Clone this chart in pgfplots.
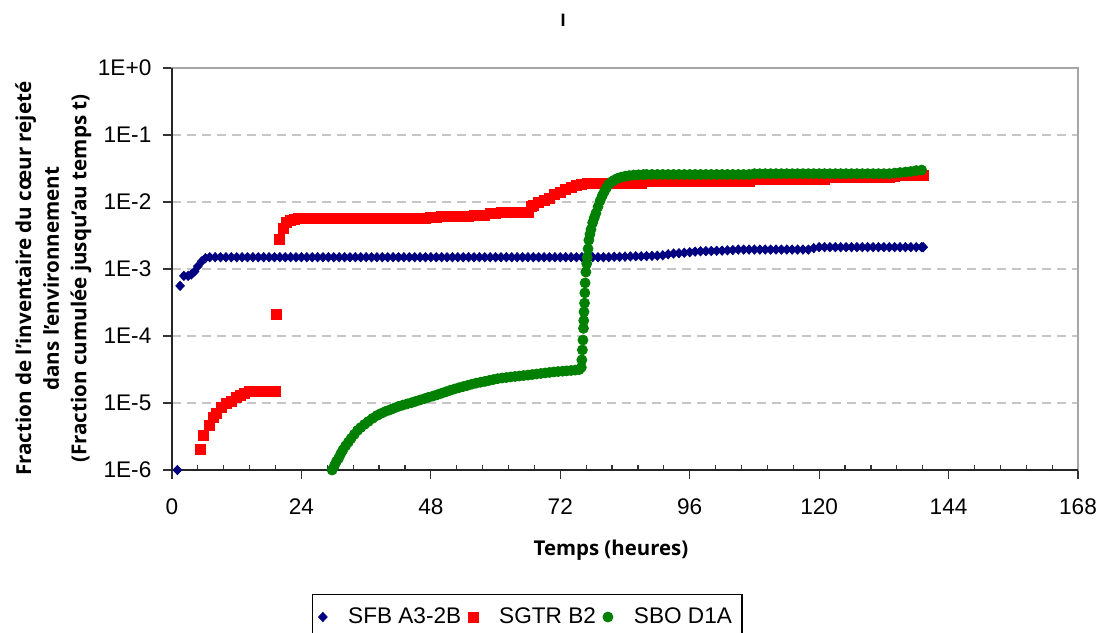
\documentclass[border=0pt]{standalone}
\usepackage{fontspec}
\setmainfont{Liberation Sans}
\newfontfamily\labelfont{Open Sans}
\usepackage{pgfplots}
\pgfplotsset{compat=1.18}
\definecolor{sfb}{HTML}{000080}
\definecolor{sgtr}{HTML}{FF0000}
\definecolor{sbo}{HTML}{008000}
\begin{document}
\begin{tikzpicture}
\path[use as bounding box] (-86pt,-81pt) rectangle (465pt,235pt);
\begin{axis}[
  scale only axis, width=453pt, height=201pt,
  at={(0pt,0pt)}, anchor=south west,
  xmin=0, xmax=168, ymin=1e-6, ymax=1, ymode=log, log basis y=10,
  xtick={0,24,...,168}, minor x tick num=4,
  ytick={1e-6,1e-5,1e-4,1e-3,1e-2,1e-1,1},
  yticklabels={1E-6,1E-5,1E-4,1E-3,1E-2,1E-1,1E+0},
  /pgf/number format/assume math mode=true,
  ticklabel style={font=\fontsize{11.3}{13}\selectfont},
  xticklabel style={yshift=-6.5pt},
  yticklabel style={xshift=-2.3pt},
  xtick pos=bottom, ytick pos=left,
  tick align=outside, major tick length=4.5pt, minor tick length=2.5pt,
  tick style={black!80, line width=0.6pt},
  every minor x tick/.append style={yshift=2.5pt},
  every minor y tick/.append style={xshift=2.5pt},
  ymajorgrids, major grid style={draw=gray!45, dash pattern=on 4.5pt off 3pt, line width=0.6pt},
  axis line style={draw=gray!70, line width=0.6pt},
  clip=false,
  title={I},
  title style={at={(axis description cs:0.4316,1.119)}, anchor=center, yshift=-6pt, font=\bfseries\fontsize{9}{10}\selectfont},
  xlabel={Temps (heures)},
  every axis x label/.style={at={(axis description cs:0.4845,-0.199)}, anchor=center, font=\labelfont\bfseries\fontsize{10.2}{12}\selectfont},
  ylabel={Fraction de l’inventaire du cœur rejeté\\dans l’environnement\\(Fraction cumulée jusqu’au temps t)},
  every axis y label/.style={at={(axis description cs:-0.1309,0.476)}, anchor=center, rotate=90, align=center, font=\labelfont\bfseries\fontsize{10.3}{13.8}\selectfont},
  legend columns=3,
  legend style={at={(axis description cs:0.1545,-0.3085)}, anchor=north west, draw=black, line width=0.6pt, fill=white,
    inner xsep=3pt, inner ysep=4.5pt, font=\fontsize{11.3}{13}\selectfont,
    /tikz/every odd column/.append style={column sep=8.5pt},
    /tikz/every even column/.append style={column sep=1.5pt}},
  legend image code/.code={\draw[#1, line width=0.4pt] plot coordinates {(0pt,0pt)};},
]
\draw[black!85, line width=0.7pt] (rel axis cs:0,1) -- (rel axis cs:0,0) -- (rel axis cs:1,0);

\addplot[only marks, mark=diamond*, mark size=2.3pt, mark options={xscale=1.25}, color=sfb] coordinates {
(1,1e-6) (1.5,5.6e-4) (2.2,7.9e-4) (3.0,7.9e-4) (3.6,8.3e-4) (4.2,9.2e-4) (4.8,1.1e-3) (5.5,1.3e-3) (6.2,1.45e-3)
(7,1.5e-3) (8,1.5e-3) (9,1.5e-3) (10,1.5e-3) (11,1.5e-3) (12,1.5e-3) (13,1.5e-3) (14,1.5e-3) (15,1.5e-3) (16,1.5e-3)
(17,1.5e-3) (18,1.5e-3) (19,1.5e-3) (20,1.5e-3) (21,1.5e-3) (22,1.5e-3) (23,1.5e-3) (24,1.5e-3) (25,1.5e-3) (26,1.5e-3)
(27,1.5e-3) (28,1.5e-3) (29,1.5e-3) (30,1.5e-3) (31,1.5e-3) (32,1.5e-3) (33,1.5e-3) (34,1.5e-3) (35,1.5e-3) (36,1.5e-3)
(37,1.5e-3) (38,1.5e-3) (39,1.5e-3) (40,1.5e-3) (41,1.5e-3) (42,1.5e-3) (43,1.5e-3) (44,1.5e-3) (45,1.5e-3) (46,1.5e-3)
(47,1.5e-3) (48,1.5e-3) (49,1.5e-3) (50,1.5e-3) (51,1.5e-3) (52,1.5e-3) (53,1.5e-3) (54,1.5e-3) (55,1.5e-3) (56,1.5e-3)
(57,1.5e-3) (58,1.5e-3) (59,1.5e-3) (60,1.5e-3) (61,1.5e-3) (62,1.5e-3) (63,1.5e-3) (64,1.5e-3) (65,1.5e-3) (66,1.5e-3)
(67,1.5e-3) (68,1.5e-3) (69,1.5e-3) (70,1.5e-3) (71,1.5e-3) (72,1.5e-3) (73,1.5e-3) (74,1.5e-3) (75,1.5e-3) (76,1.5e-3)
(77,1.5e-3) (78,1.5e-3) (79,1.5e-3) (80,1.5e-3) (81,1.5e-3) (82,1.52e-3) (83,1.52e-3) (84,1.53e-3) (85,1.54e-3) (86,1.55e-3)
(87,1.55e-3) (88,1.56e-3) (89,1.57e-3) (90,1.58e-3) (91,1.6e-3) (92,1.66e-3) (93,1.7e-3) (94,1.72e-3) (95,1.75e-3) (96,1.78e-3)
(97,1.82e-3) (98,1.84e-3) (99,1.85e-3) (100,1.86e-3) (101,1.87e-3) (102,1.88e-3) (103,1.9e-3) (104,1.92e-3) (105,1.95e-3) (106,1.95e-3)
(107,1.95e-3) (108,1.95e-3) (109,1.95e-3) (110,1.95e-3) (111,1.95e-3) (112,1.95e-3) (113,1.95e-3) (114,1.95e-3) (115,1.95e-3) (116,1.95e-3)
(117,1.95e-3) (118,1.95e-3) (119,2.05e-3) (120,2.12e-3) (121,2.12e-3) (122,2.12e-3) (123,2.12e-3) (124,2.12e-3) (125,2.12e-3) (126,2.12e-3)
(127,2.12e-3) (128,2.12e-3) (129,2.12e-3) (130,2.12e-3) (131,2.12e-3) (132,2.12e-3) (133,2.12e-3) (134,2.12e-3) (135,2.12e-3) (136,2.12e-3)
(137,2.12e-3) (138,2.12e-3) (139,2.12e-3) (139.3,2.12e-3)
};
\addlegendentry{SFB A3-2B}

\addplot[only marks, mark=square*, mark size=2.5pt, color=sgtr] coordinates {
(5.2,2.0e-6) (5.9,3.3e-6) (6.9,4.6e-6) (7.6,6.0e-6) (8.3,7.1e-6) (9.2,8.7e-6) (10.1,1.0e-5) (11.1,1.07e-5) (11.9,1.2e-5) (12.6,1.3e-5)
(13.5,1.4e-5) (14.3,1.5e-5) (15.1,1.5e-5) (15.9,1.5e-5) (16.7,1.5e-5) (17.5,1.5e-5) (18.3,1.5e-5) (19.1,1.5e-5) (19.3,2.1e-4)
(20.0,2.8e-3) (20.6,4.1e-3) (21.3,5.0e-3) (22.0,5.3e-3) (22.7,5.5e-3) (23.5,5.6e-3)
(24,5.6e-3) (25,5.6e-3) (26,5.6e-3) (27,5.6e-3) (28,5.6e-3) (29,5.6e-3) (30,5.6e-3) (31,5.6e-3) (32,5.6e-3) (33,5.6e-3)
(34,5.6e-3) (35,5.6e-3) (36,5.6e-3) (37,5.6e-3) (38,5.6e-3) (39,5.6e-3) (40,5.6e-3) (41,5.6e-3) (42,5.6e-3) (43,5.6e-3)
(44,5.6e-3) (45,5.65e-3) (46,5.7e-3) (47,5.7e-3) (48,5.8e-3) (49,5.8e-3) (50,6.0e-3) (51,6.0e-3) (52,6.0e-3) (53,6.2e-3)
(54,6.2e-3) (55,6.2e-3) (56,6.4e-3) (57,6.4e-3) (58,6.4e-3) (59,6.7e-3) (60,6.7e-3) (61,6.9e-3) (62,6.9e-3) (63,6.9e-3)
(64,6.9e-3) (65,6.9e-3) (66,6.9e-3) (66.6,8.5e-3) (67,9.0e-3) (68,1.0e-2) (69,1.07e-2) (70,1.15e-2) (71,1.3e-2) (72,1.4e-2)
(73,1.55e-2) (74,1.67e-2) (75,1.75e-2) (76,1.85e-2) (77,1.92e-2) (78,1.92e-2) (79,1.92e-2) (80,1.92e-2) (81,1.92e-2) (82,1.92e-2)
(83,1.92e-2) (84,1.92e-2) (85,1.92e-2) (86,1.92e-2) (87,1.92e-2) (88,2.0e-2) (89,2.0e-2) (90,2.0e-2) (91,2.0e-2) (92,2.0e-2)
(93,2.0e-2) (94,2.0e-2) (95,2.0e-2) (96,2.0e-2) (97,2.0e-2) (98,2.0e-2) (99,2.0e-2) (100,2.0e-2) (101,2.0e-2) (102,2.0e-2)
(103,2.0e-2) (104,2.0e-2) (105,2.0e-2) (106,2.0e-2) (107,2.0e-2) (108,2.15e-2) (109,2.15e-2) (110,2.15e-2) (111,2.15e-2) (112,2.15e-2)
(113,2.15e-2) (114,2.15e-2) (115,2.15e-2) (116,2.15e-2) (117,2.15e-2) (118,2.15e-2) (119,2.15e-2) (120,2.15e-2) (121,2.15e-2) (122,2.3e-2)
(123,2.3e-2) (124,2.3e-2) (125,2.3e-2) (126,2.3e-2) (127,2.3e-2) (128,2.3e-2) (129,2.3e-2) (130,2.3e-2) (131,2.3e-2) (132,2.3e-2)
(133,2.3e-2) (134,2.4e-2) (135,2.5e-2) (136,2.5e-2) (137,2.5e-2) (138,2.5e-2) (139,2.5e-2) (139.4,2.5e-2)
};
\addlegendentry{SGTR B2}

\addplot[only marks, mark=*, mark size=2.5pt, color=sbo] coordinates {
(29.7,1.0e-6) (30.1,1.15e-6) (30.5,1.35e-6) (30.9,1.5e-6) (31.3,1.75e-6) (31.7,2.0e-6) (32.2,2.3e-6) (32.7,2.6e-6) (33.2,2.95e-6) (33.8,3.4e-6)
(34.4,3.9e-6) (35.0,4.3e-6) (35.7,4.8e-6) (36.4,5.3e-6) (37.2,5.9e-6) (38.0,6.5e-6) (38.8,7.0e-6) (39.6,7.5e-6) (40.4,7.9e-6) (41.2,8.4e-6)
(42.0,8.9e-6) (42.8,9.3e-6) (43.6,9.7e-6) (44.4,1.01e-5) (45.2,1.06e-5) (46.0,1.11e-5) (46.8,1.16e-5) (47.6,1.22e-5) (48.4,1.27e-5) (49.2,1.33e-5)
(50.0,1.40e-5) (50.8,1.47e-5) (51.6,1.55e-5) (52.4,1.62e-5) (53.2,1.69e-5) (54.0,1.76e-5) (54.8,1.83e-5) (55.6,1.91e-5) (56.4,1.98e-5) (57.2,2.04e-5)
(58.0,2.1e-5) (58.8,2.17e-5) (59.6,2.24e-5) (60.4,2.31e-5) (61.2,2.36e-5) (62.0,2.4e-5) (62.8,2.45e-5) (63.6,2.49e-5) (64.4,2.53e-5) (65.2,2.57e-5)
(66.0,2.61e-5) (66.8,2.66e-5) (67.6,2.71e-5) (68.4,2.76e-5) (69.2,2.81e-5) (70.0,2.86e-5) (70.8,2.91e-5) (71.6,2.95e-5) (72.4,2.98e-5) (73.2,3.02e-5)
(74.0,3.06e-5) (74.8,3.1e-5) (75.5,3.15e-5) (75.9,3.4e-5) (76.0,4.4e-5) (76.1,6.2e-5) (76.2,8.7e-5) (76.3,1.3e-4) (76.35,1.7e-4) (76.4,2.3e-4)
(76.5,3.1e-4) (76.55,4.4e-4) (76.6,6.2e-4) (76.75,9.0e-4) (76.9,1.2e-3) (77.0,1.5e-3) (77.15,2.0e-3) (77.3,2.7e-3) (77.5,3.3e-3) (77.7,3.9e-3)
(78.0,4.9e-3) (78.3,5.8e-3) (78.6,6.8e-3) (79.0,8.5e-3) (79.4,1.05e-2) (79.8,1.25e-2) (80.2,1.45e-2) (80.6,1.65e-2) (81.0,1.85e-2) (81.5,2.0e-2)
(82.0,2.12e-2) (82.6,2.25e-2) (83.3,2.35e-2) (84.0,2.42e-2) (84.8,2.48e-2) (85.6,2.52e-2) (86.5,2.55e-2) (87.4,2.57e-2)
(88,2.58e-2) (89,2.58e-2) (90,2.58e-2) (91,2.58e-2) (92,2.58e-2) (93,2.58e-2) (94,2.58e-2) (95,2.58e-2) (96,2.58e-2) (97,2.58e-2)
(98,2.58e-2) (99,2.58e-2) (100,2.58e-2) (101,2.58e-2) (102,2.58e-2) (103,2.58e-2) (104,2.58e-2) (105,2.58e-2) (106,2.58e-2) (107,2.58e-2)
(108,2.65e-2) (109,2.65e-2) (110,2.65e-2) (111,2.65e-2) (112,2.65e-2) (113,2.65e-2) (114,2.65e-2) (115,2.65e-2) (116,2.65e-2) (117,2.65e-2)
(118,2.65e-2) (119,2.65e-2) (120,2.65e-2) (121,2.65e-2) (122,2.65e-2) (123,2.65e-2) (124,2.65e-2) (125,2.65e-2) (126,2.65e-2) (127,2.65e-2)
(128,2.65e-2) (129,2.65e-2) (130,2.65e-2) (131,2.65e-2) (132,2.65e-2) (133,2.65e-2) (134,2.7e-2) (135,2.75e-2) (136,2.8e-2) (137,2.85e-2)
(138,2.95e-2) (139,3.0e-2)
};
\addlegendentry{SBO D1A}
\end{axis}
\end{tikzpicture}
\end{document}
